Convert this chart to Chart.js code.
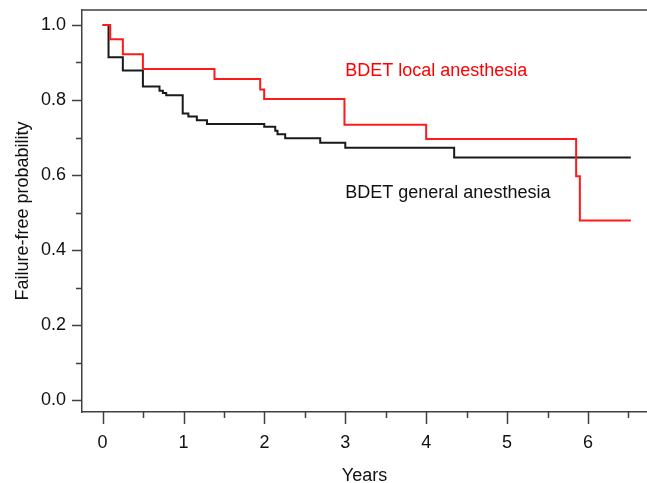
<!DOCTYPE html>
<html>
<head>
<meta charset="utf-8">
<script src="https://cdn.jsdelivr.net/npm/chart.js@4"></script>
<style>
  html, body { margin: 0; padding: 0; background: #fff; overflow: hidden; }
  canvas { display: block; }
</style>
</head>
<body>
<canvas id="myChart" width="647" height="483"></canvas>
<script>
// Kaplan-Meier steps (years, failure-free probability)
const localYears = [0, 0.094, 0.25, 0.498, 1.383, 1.948, 1.997, 2.99, 4.0, 5.854, 5.90, 6.53];
const localProb = [1.0, 0.962, 0.922, 0.883, 0.856, 0.828, 0.803, 0.734, 0.696, 0.597, 0.479, 0.479];

const generalYears = [0, 0.073, 0.25, 0.498, 0.703, 0.745, 0.786, 0.99, 1.06, 1.165, 1.29, 1.998, 2.134, 2.162, 2.257, 2.69, 3.0, 4.346, 6.53];
const generalProb = [1.0, 0.914, 0.879, 0.836, 0.825, 0.819, 0.813, 0.764, 0.756, 0.746, 0.736, 0.729, 0.718, 0.709, 0.698, 0.686, 0.673, 0.647, 0.647];

const xTicks = [0, 1, 2, 3, 4, 5, 6];
const xMinorTicks = [0.5, 1.5, 2.5, 3.5, 4.5, 5.5, 6.5];
const yTicks = [0, 0.2, 0.4, 0.6, 0.8, 1.0];
const yMinorTicks = [0.1, 0.3, 0.5, 0.7, 0.9];

const seriesLabels = ['BDET local anesthesia', 'BDET general anesthesia'];

const FONT = 'Liberation Sans, Arial, sans-serif';
const AXIS_COLOR = '#404040';

const toPoints = (xs, ys) => xs.map((x, i) => ({ x, y: ys[i] }));

// no extra room for overflowing tick labels, the plot box is fixed
const fixBox = (scale, size) => {
	if (scale.isHorizontal()) scale.height = size;
	else scale.width = size;
	scale.paddingTop = 0;
	scale.paddingBottom = 0;
	scale.paddingLeft = 0;
	scale.paddingRight = 0;
};

// frame line on top, tick marks (long and short) and the two curve labels
const decorations = {
	id: 'decorations',
	afterDraw(chart) {
		const ctx = chart.ctx;
		const area = chart.chartArea;
		const xs = chart.scales.x;
		const ys = chart.scales.y;
		ctx.save();
		ctx.strokeStyle = AXIS_COLOR;
		ctx.lineWidth = 1.5;
		ctx.beginPath();
		ctx.moveTo(area.left, area.top);
		ctx.lineTo(area.right, area.top);
		xTicks.forEach((v) => {
			const px = Math.round(xs.getPixelForValue(v)) + 0.5;
			ctx.moveTo(px, area.bottom);
			ctx.lineTo(px, area.bottom + 12);
		});
		xMinorTicks.forEach((v) => {
			const px = Math.round(xs.getPixelForValue(v)) + 0.5;
			ctx.moveTo(px, area.bottom);
			ctx.lineTo(px, area.bottom + 6);
		});
		yTicks.forEach((v) => {
			const py = Math.round(ys.getPixelForValue(v)) + 0.5;
			ctx.moveTo(area.left, py);
			ctx.lineTo(area.left - 10, py);
		});
		yMinorTicks.forEach((v) => {
			const py = Math.round(ys.getPixelForValue(v)) + 0.5;
			ctx.moveTo(area.left, py);
			ctx.lineTo(area.left - 6, py);
		});
		ctx.stroke();

		ctx.font = '18px ' + FONT;
		ctx.textAlign = 'left';
		ctx.textBaseline = 'middle';
		ctx.fillStyle = '#ff0000';
		ctx.fillText(seriesLabels[0], xs.getPixelForValue(3.0), ys.getPixelForValue(0.878));
		ctx.fillStyle = '#111111';
		ctx.fillText(seriesLabels[1], xs.getPixelForValue(3.0), ys.getPixelForValue(0.552));
		ctx.restore();
	},
};

const ctx = document.getElementById('myChart').getContext('2d');
const myChart = new Chart(ctx, {
	type: 'line',
	data: {
		datasets: [
			{
				label: seriesLabels[0],
				data: toPoints(localYears, localProb),
				borderColor: '#ff1a1a',
				borderWidth: 2,
				stepped: true,
				pointRadius: 0,
				fill: false,
			},
			{
				label: seriesLabels[1],
				data: toPoints(generalYears, generalProb),
				borderColor: '#1a1a1a',
				borderWidth: 2,
				stepped: true,
				pointRadius: 0,
				fill: false,
			},
		],
	},
	options: {
		responsive: false,
		animation: false,
		devicePixelRatio: 1,
		layout: { padding: { top: 10, right: 0, left: 0, bottom: 0 } },
		plugins: {
			legend: { display: false },
			tooltip: { enabled: false },
		},
		scales: {
			x: {
				type: 'linear',
				min: -0.255,
				max: 6.73,
				afterFit: (scale) => fixBox(scale, 71),
				afterBuildTicks: (scale) => { scale.ticks = xTicks.map((v) => ({ value: v })); },
				grid: { display: true, drawOnChartArea: false, drawTicks: false },
				border: { display: true, color: AXIS_COLOR, width: 1.5 },
				ticks: {
					padding: 20,
					color: '#111',
					font: { family: FONT, size: 18 },
					maxRotation: 0,
					callback: (v) => String(v),
				},
				title: {
					display: true,
					text: 'Years',
					color: '#111',
					font: { family: FONT, size: 18, lineHeight: 1 },
					padding: { top: 0, bottom: -2 },
				},
			},
			y: {
				type: 'linear',
				min: -0.032,
				max: 1.04,
				afterFit: (scale) => fixBox(scale, 82),
				afterBuildTicks: (scale) => { scale.ticks = yTicks.map((v) => ({ value: v })); },
				grid: { display: true, drawOnChartArea: false, drawTicks: false },
				border: { display: true, color: AXIS_COLOR, width: 1.5 },
				ticks: {
					padding: 16,
					color: '#111',
					font: { family: FONT, size: 18 },
					callback: (v) => Number(v).toFixed(1),
				},
				title: {
					display: true,
					text: 'Failure-free probability',
					color: '#111',
					font: { family: FONT, size: 18, lineHeight: 1 },
					padding: { top: 14, bottom: 0 },
				},
			},
		},
	},
	plugins: [decorations],
});
</script>
</body>
</html>
